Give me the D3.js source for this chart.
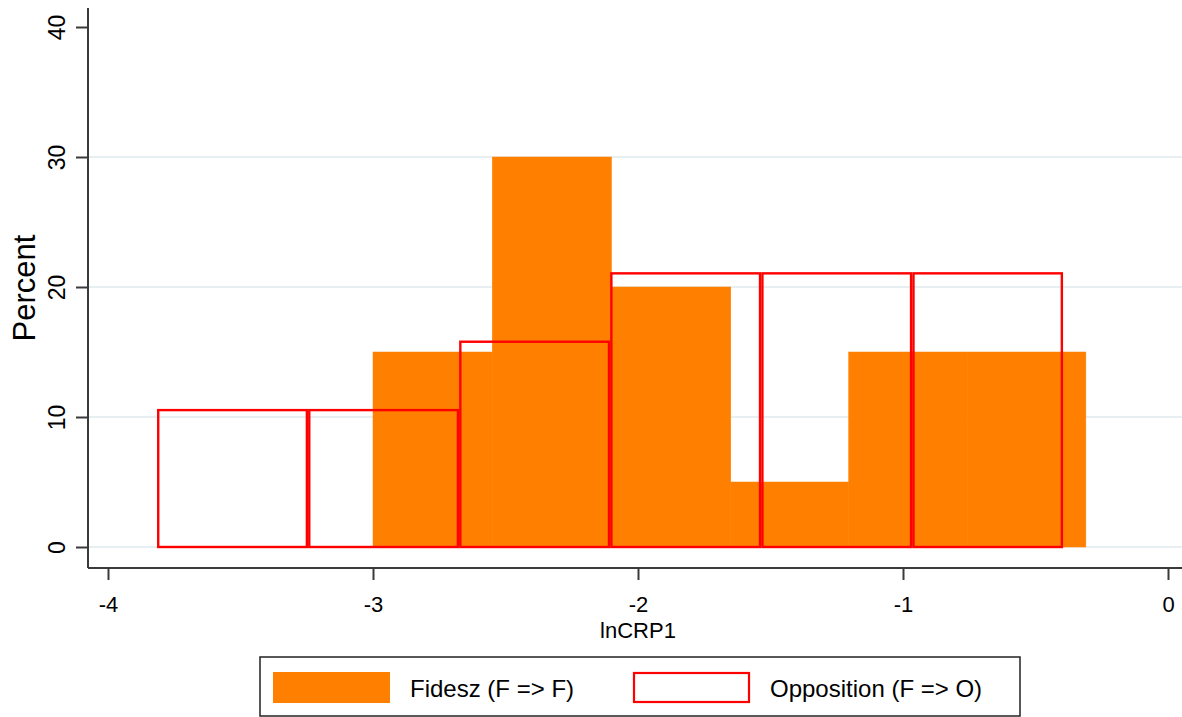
<!DOCTYPE html>
<html>
<head>
<meta charset="utf-8">
<script src="https://cdn.jsdelivr.net/npm/d3@7"></script>
<style>
  html, body { margin: 0; padding: 0; background: #fff; }
  svg { display: block; font-family: "Liberation Sans", Arial, sans-serif; }
</style>
</head>
<body>
<svg id="chart" width="1182" height="717"></svg>
<script>
// Histogram bin edges (lnCRP1) and bar heights (percent of each group)
const fideszEdges = [-3.0, -2.55, -2.10, -1.65, -1.205, -0.755, -0.31];
const fideszPercent = [15, 30, 20, 5, 15, 15];
const oppositionEdges = [-3.815, -3.245, -2.675, -2.105, -1.535, -0.965, -0.396];
const oppositionPercent = [10.53, 10.53, 15.79, 21.05, 21.05, 21.05];

const xTicks = [-4, -3, -2, -1, 0];
const yTicks = [0, 10, 20, 30, 40];
const gridTicks = [0, 10, 20, 30];

const seriesNames = ["Fidesz (F => F)", "Opposition (F => O)"];
const xTitle = "lnCRP1";
const yTitle = "Percent";

const ORANGE = "#ff8000";
const RED = "#ff0000";
const AXIS = "#3a3a3a";
const FONT = "Liberation Sans, Arial, sans-serif";

const svg = d3.select("#chart");

// plot region
const plot = { left: 88, right: 1182, top: 8, bottom: 568 };
const x = d3.scaleLinear().domain([-4, 0]).range([108, 1168]);
const y = d3.scaleLinear().domain([0, 40]).range([547, 27]);
const plainNumber = d => String(d);

// gridlines
svg.append("g").selectAll("line").data(gridTicks).join("line")
  .attr("x1", plot.left).attr("x2", plot.right)
  .attr("y1", d => y(d)).attr("y2", d => y(d))
  .attr("stroke", "#e8eff2").attr("stroke-width", 2);

const bins = (edges, vals) => vals.map((v, i) => ({ x0: edges[i], x1: edges[i + 1], v }));

// Fidesz: filled bars
svg.append("g").selectAll("rect").data(bins(fideszEdges, fideszPercent)).join("rect")
  .attr("x", d => x(d.x0)).attr("width", d => x(d.x1) - x(d.x0))
  .attr("y", d => y(d.v)).attr("height", d => y(0) - y(d.v))
  .attr("fill", ORANGE).attr("stroke", ORANGE).attr("stroke-width", 0.5);

// Opposition: outlined bars on top
const inset = 1.2;
svg.append("g").selectAll("rect").data(bins(oppositionEdges, oppositionPercent)).join("rect")
  .attr("x", d => x(d.x0) + inset).attr("width", d => x(d.x1) - x(d.x0) - 2 * inset)
  .attr("y", d => y(d.v)).attr("height", d => y(0) - y(d.v))
  .attr("fill", "none").attr("stroke", RED).attr("stroke-width", 2.4);

// axes
const xAxis = svg.append("g").attr("transform", `translate(0,${plot.bottom})`)
  .call(d3.axisBottom(x).tickValues(xTicks).tickSize(12).tickPadding(16).tickFormat(plainNumber));
xAxis.select(".domain").remove();
xAxis.append("line").attr("x1", plot.left).attr("x2", plot.right).attr("y1", 0).attr("y2", 0)
  .attr("stroke", AXIS).attr("stroke-width", 2);
xAxis.selectAll(".tick line").attr("stroke", AXIS).attr("stroke-width", 2);
xAxis.selectAll(".tick text").attr("fill", "#000").attr("font-size", 22).attr("font-family", FONT);

const yAxis = svg.append("g").attr("transform", `translate(${plot.left},0)`)
  .call(d3.axisLeft(y).tickValues(yTicks).tickSize(12).tickFormat(plainNumber));
yAxis.select(".domain").remove();
yAxis.append("line").attr("x1", 0).attr("x2", 0).attr("y1", plot.top).attr("y2", plot.bottom)
  .attr("stroke", AXIS).attr("stroke-width", 2);
yAxis.selectAll(".tick line").attr("stroke", AXIS).attr("stroke-width", 2);
yAxis.selectAll(".tick text")
  .attr("x", null).attr("dy", null)
  .attr("fill", "#000").attr("font-size", 23).attr("font-family", FONT)
  .attr("text-anchor", "middle")
  .attr("transform", "translate(-23,0) rotate(-90)");

// axis titles
svg.append("text").attr("x", x(-2)).attr("y", 638)
  .attr("text-anchor", "middle").attr("font-size", 22).attr("fill", "#000").text(xTitle);
svg.append("text").attr("transform", `translate(35,${y(20) + 1}) rotate(-90)`)
  .attr("text-anchor", "middle").attr("font-size", 31).attr("fill", "#000").text(yTitle);

// legend
const legend = svg.append("g");
legend.append("rect").attr("x", 260).attr("y", 657).attr("width", 760).attr("height", 59)
  .attr("fill", "#fff").attr("stroke", "#222").attr("stroke-width", 1.5);
legend.append("rect").attr("x", 273).attr("y", 672).attr("width", 117).attr("height", 31)
  .attr("fill", ORANGE);
legend.append("rect").attr("x", 634).attr("y", 673).attr("width", 115).attr("height", 29)
  .attr("fill", "#fff").attr("stroke", RED).attr("stroke-width", 2.2);
legend.append("text").attr("x", 410).attr("y", 697).attr("font-size", 24).attr("fill", "#000")
  .text(seriesNames[0]);
legend.append("text").attr("x", 770).attr("y", 697).attr("font-size", 24).attr("fill", "#000")
  .text(seriesNames[1]);
</script>
</body>
</html>
